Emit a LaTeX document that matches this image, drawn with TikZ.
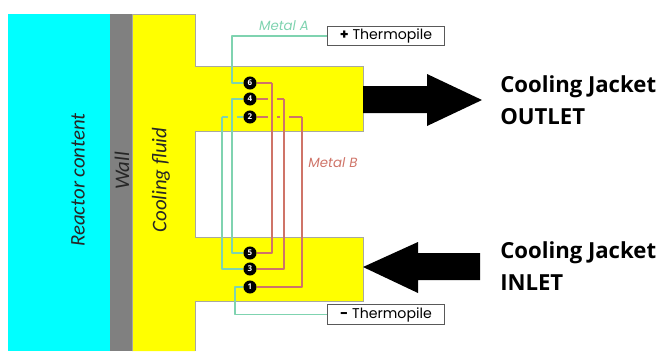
\documentclass[tikz,border=0pt]{standalone}
\usepackage{fontspec}
\setmainfont{Carlito}
\newfontfamily\labelfont{Poppins}
\newfontfamily\headfont{Open Sans}
\definecolor{metalA}{HTML}{7FD3B0}
\definecolor{metalB}{HTML}{CF7468}
\definecolor{edgegray}{HTML}{A8A8A0}
\definecolor{contentcyan}{RGB}{0,255,255}
\definecolor{fluidyellow}{RGB}{255,255,0}
\tikzset{
  wireA/.style={metalA, line width=1.2pt, line join=round},
  wireB/.style={metalB, line width=1.2pt, line join=round},
  junction/.style={circle, fill=black, text=white, inner sep=0pt, minimum size=9.8pt, font=\headfont\bfseries\fontsize{6}{6}\selectfont},
  gapmark/.style={fluidyellow, line width=3pt},
  tplbox/.style={draw=black!65, fill=white, line width=0.7pt, minimum width=88pt, minimum height=14.5pt, inner sep=0pt, font=\labelfont\fontsize{10.6}{12}\selectfont},
  sidetext/.style={rotate=90, font=\itshape\fontsize{15.6}{18}\selectfont, text=black!85},
  metaltext/.style={font=\labelfont\itshape\fontsize{10}{12}\selectfont},
  jackettext/.style={align=left, anchor=west, inner sep=0pt, font=\headfont\bfseries\fontsize{16.6}{24}\selectfont}
}
\begin{document}
\begin{tikzpicture}[x=0.75pt, y=-0.75pt]
  \useasboundingbox (0,0) rectangle (661,351);

  % reactor content and wall
  \fill[contentcyan] (8,14) rectangle (110,351);
  \fill[gray] (110,14) rectangle (132,351);

  % cooling fluid with the two jacket branches
  \draw[edgegray, fill=fluidyellow, line width=0.6pt] (132,351) -- (132,14) -- (195,14) -- (195,66) -- (363,66)
    -- (363,131) -- (195,131) -- (195,237) -- (363,237) -- (363,301) -- (195,301) -- (195,351);

  % coordinates
  \coordinate (A6) at (232,83);
  \coordinate (A4) at (232,99);
  \coordinate (A2) at (222,117);
  \coordinate (A5) at (232,253);
  \coordinate (A3) at (222,269);
  \coordinate (A1) at (235,287);
  \coordinate (B6) at (272,83);
  \coordinate (B4) at (284,99);
  \coordinate (B2) at (302,117);
  \coordinate (B5) at (272,253);
  \coordinate (B3) at (284,269);
  \coordinate (B1) at (302,287);

  % junctions
  \node[junction] (j6) at (250,83) {6};
  \node[junction] (j4) at (250,99) {4};
  \node[junction] (j2) at (250,117) {2};
  \node[junction] (j5) at (250,253) {5};
  \node[junction] (j3) at (250,269) {3};
  \node[junction] (j1) at (250,287) {1};

  % thermopile terminals
  \node[tplbox] (tplus) at (386,36) {\textbf{+} Thermopile};
  \node[tplbox] (tminus) at (386,314.5) {\textbf{-} Thermopile};

  % horizontal runs at the upper junctions
  \draw[wireB] (j6) -- (B6);
  \draw[wireB] (j4) -- (B4);
  \draw[wireB] (j2) -- (B2);
  \draw[wireA] (j2) -- (A2);

  % breaks where a vertical run passes
  \foreach \x/\y in {272/99, 272/117, 284/117, 232/117}
    \draw[gapmark] (\x-4.5,\y) -- (\x+4.5,\y);

  % metal A
  \draw[wireA] (tplus.west) -| (A6) -- (j6);
  \draw[wireA] (j4) -- (A4) -- (A5) -- (j5);
  \draw[wireA] (A2) -- (A3) -- (j3);
  \draw[wireA] (j1) -- (A1) |- (tminus.west);

  % metal B
  \draw[wireB] (B6) -- (B5) -- (j5);
  \draw[wireB] (B4) -- (B3) -- (j3);
  \draw[wireB] (B2) -- (B1) -- (j1);

  % block arrows
  \fill[black] (363,86) -- (427,86) -- (427,74) -- (482,100) -- (427,126) -- (427,113) -- (363,113) -- cycle;
  \fill[black] (363,267) -- (418,242) -- (418,253) -- (480,253) -- (480,280) -- (418,280) -- (418,293) -- cycle;

  % labels
  \node[sidetext] (reactor) at (78,180) {Reactor content};
  \node[sidetext] (wall) at (122,171) {Wall};
  \node[sidetext] (fluid) at (161,180) {Cooling fluid};
  \node[metaltext, text=metalA] (metala) at (284,26) {Metal A};
  \node[metaltext, text=metalB] (metalb) at (333,163) {Metal B};
  \node[jackettext] (outlet) at (500,100) {Cooling Jacket\\OUTLET};
  \node[jackettext] (inlet) at (500,266) {Cooling Jacket\\INLET};
\end{tikzpicture}
\end{document}
